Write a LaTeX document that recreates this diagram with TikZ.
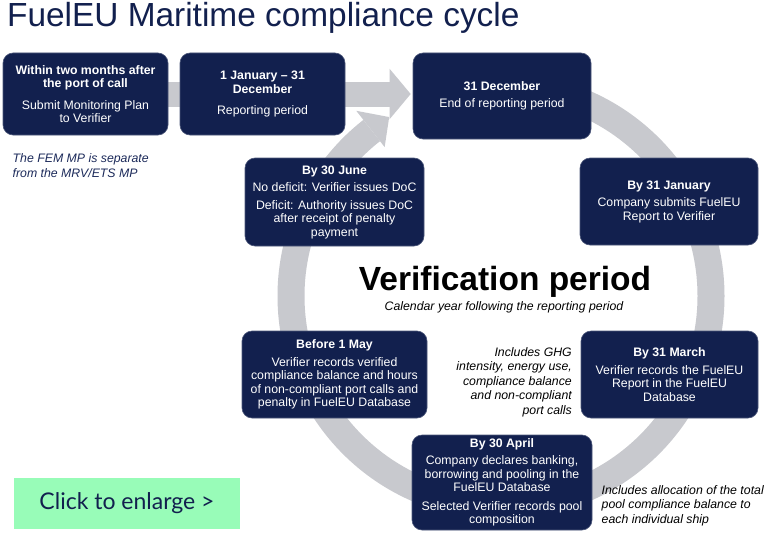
\documentclass[tikz,border=0pt]{standalone}
\usepackage{fontspec}
\setmainfont{Liberation Sans}
\newfontfamily\btnfont{Lato}
\usepackage{tikz}
\usetikzlibrary{arrows.meta,backgrounds}
\definecolor{fenavy}{HTML}{12204E}
\definecolor{fegray}{HTML}{C8C9CE}
\definecolor{femint}{HTML}{98FCB8}
\definecolor{fenote}{HTML}{1C2A5A}

\begin{document}
\begin{tikzpicture}[x=1pt,y=1pt,
  stage/.style={fill=fenavy,draw=fenavy!75!white,line width=0.6pt,rounded corners=10pt,
    text=white,align=center,inner sep=0pt,font=\fontsize{12.3}{13.5}\selectfont},
  flow/.style={fegray,line width=25pt,-{Triangle[length=21pt,width=49pt]}},
  note/.style={inner sep=0pt,font=\fontsize{12.3}{14.5}\selectfont\itshape}]
  \useasboundingbox (0,0) rectangle (770,-543);
  \node[anchor=base west,inner sep=0pt,text=fenavy,font=\fontsize{33.4}{38}\selectfont] (title) at (7,-27) {FuelEU Maritime compliance cycle};
  \node[stage,minimum width=165pt,minimum height=82pt] (mplan) at (85.5,-94)
    {\textbf{Within two months after}\\\textbf{the port of call}\\[8pt]Submit Monitoring Plan\\to Verifier};
  \node[stage,minimum width=165pt,minimum height=82pt] (repper) at (262.5,-94)
    {\textbf{1 January – 31}\\\textbf{December}\\[8pt]Reporting period};
  \node[stage,minimum width=178pt,minimum height=86pt] (dec31) at (502,-96)
    {\textbf{31 December}\\[3pt]End of reporting period};
  \node[stage,minimum width=178pt,minimum height=87pt] (jan31) at (669,-201.5)
    {\textbf{By 31 January}\\[4pt]Company submits FuelEU\\Report to Verifier};
  \node[stage,minimum width=179pt,minimum height=88pt] (jun30) at (334.5,-202)
    {\textbf{By 30 June}\\[4pt]No deficit: Verifier issues DoC\\[4pt]Deficit: Authority issues DoC\\after receipt of penalty\\payment};
  \node[stage,minimum width=185pt,minimum height=87pt] (may1) at (334.5,-374.5)
    {\textbf{Before 1 May}\\[4pt]Verifier records verified\\compliance balance and hours\\of non-compliant port calls and\\penalty in FuelEU Database};
  \node[stage,minimum width=177pt,minimum height=87pt] (mar31) at (669.5,-374.5)
    {\textbf{By 31 March}\\[4pt]Verifier records the FuelEU\\Report in the FuelEU\\Database};
  \node[stage,minimum width=180pt,minimum height=95pt] (apr30) at (502,-482.5)
    {\textbf{By 30 April}\\[4pt]Company declares banking,\\borrowing and pooling in the\\FuelEU Database\\[5pt]Selected Verifier records pool\\composition};
  \node[anchor=base,inner sep=0pt,font=\fontsize{33.5}{40}\selectfont\bfseries] (verif) at (505,-290) {Verification period};
  \node[note,anchor=base] (calyear) at (504,-310) {Calendar year following the reporting period};
  \node[note,text=fenote,anchor=north west,align=left] (femnote) at (12.5,-153.5) {The FEM MP is separate\\from the MRV/ETS MP};
  \node[note,anchor=north east,align=right] (ghgnote) at (572,-347) {Includes GHG\\intensity, energy use,\\compliance balance\\and non-compliant\\port calls};
  \node[note,anchor=north west,align=left] (poolnote) at (601.5,-485) {Includes allocation of the total\\pool compliance balance to\\each individual ship};
  \node[fill=femint,minimum width=226pt,minimum height=51pt,inner sep=0pt,text=fenavy,font=\btnfont\fontsize{23}{26}\selectfont] (enlarge) at (127,-503.5) {Click to enlarge >};
  \begin{pgfonlayer}{background}
    \fill[white] (0,0) rectangle (770,-543);
    \coordinate (hub) at (501,-296);
    \draw[fegray,line width=27pt] ([shift={(90:210)}]hub) arc[start angle=90,end angle=-232,radius=210];
    \fill[fegray] ([shift={(128:189)}]hub) -- ([shift={(128:235)}]hub) -- ([shift={(122:211)}]hub) -- cycle;
    \draw[flow,shorten >=2pt] (mplan.center) -- (dec31.west |- mplan.center);
  \end{pgfonlayer}
\end{tikzpicture}
\end{document}
